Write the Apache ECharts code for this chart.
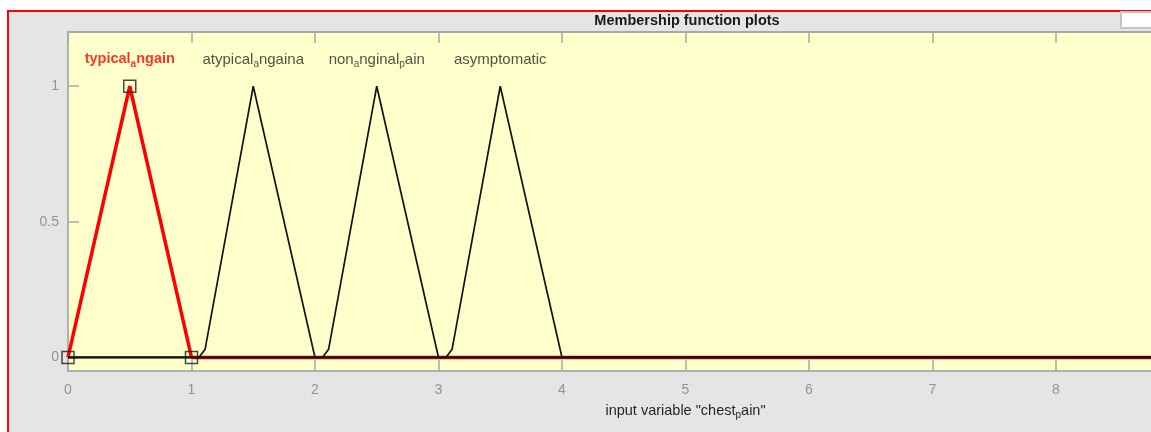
<!DOCTYPE html>
<html>
<head>
<meta charset="utf-8">
<script src="https://cdn.jsdelivr.net/npm/echarts@6/dist/echarts.min.js"></script>
<style>
  html, body { margin: 0; padding: 0; background: #ffffff; }
  #wrap { position: relative; width: 1151px; height: 432px; overflow: hidden; }
  #panel { position: absolute; left: 7px; top: 10px; width: 1200px; height: 500px;
           background: #e5e5e5; border-left: 2px solid #ff0000; border-top: 2px solid #ff0000; }
  #chart { position: absolute; left: 0; top: 0; width: 1151px; height: 432px; }
</style>
</head>
<body>
<div id="wrap">
  <div id="panel"></div>
  <div id="chart"></div>
</div>
<script>
// Input variable "chest_pain": universe of discourse and its membership functions
const xRange = [0, 10];
const yRange = [-0.05, 1.2];
const yTicks = [0, 0.5, 1];

const mfNames = ['typical_angain', 'atypical_angaina', 'non_anginal_pain', 'asymptomatic'];
const mfPeaks = [0.5, 1.5, 2.5, 3.5];

// sampled curves, zero over the rest of the range
const typicalAngain = [[0, 0], [0.5, 1], [1, 0], [10, 0]];
const atypicalAngaina = [[0, 0], [1.06, 0], [1.11, 0.03], [1.5, 1], [2, 0], [10, 0]];
const nonAnginalPain = [[0, 0], [2.06, 0], [2.11, 0.03], [2.5, 1], [3, 0], [10, 0]];
const asymptomatic = [[0, 0], [3.06, 0], [3.11, 0.03], [3.5, 1], [4, 0], [10, 0]];

// parameter handles of the selected function
const selectedParams = [[0, 0], [0.5, 1], [1, 0]];
const selectedIndex = 0;

const LABEL_Y = 1.095;
const FONT = '"Liberation Sans", Arial, Helvetica, sans-serif';

// TeX-style "_x" -> subscript x
function texRich(s, main, sub) {
  let out = '';
  let buf = '';
  for (let i = 0; i < s.length; i++) {
    if (s[i] === '_' && i + 1 < s.length) {
      if (buf) { out += '{' + main + '|' + buf + '}'; buf = ''; }
      out += '{' + sub + '|' + s[i + 1] + '}';
      i++;
    } else {
      buf += s[i];
    }
  }
  if (buf) out += '{' + main + '|' + buf + '}';
  return out;
}

const chart = echarts.init(document.getElementById('chart'), null, { renderer: 'canvas' });

const labelRich = {
  n: { fontFamily: FONT, fontSize: 15, color: '#262626', verticalAlign: 'top', lineHeight: 17 },
  s: { fontFamily: FONT, fontSize: 10, color: '#262626', verticalAlign: 'top', lineHeight: 17, padding: [7, 0, 0, 0] },
  bn: { fontFamily: FONT, fontSize: 14.5, fontWeight: 'bold', color: '#ff0000', verticalAlign: 'top', lineHeight: 17 },
  bs: { fontFamily: FONT, fontSize: 10, fontWeight: 'bold', color: '#ff0000', verticalAlign: 'top', lineHeight: 17, padding: [7, 0, 0, 0] }
};

const curveSets = [typicalAngain, atypicalAngaina, nonAnginalPain, asymptomatic];

const series = [];
curveSets.forEach(function (pts, i) {
  const sel = i === selectedIndex;
  series.push({
    type: 'line',
    name: mfNames[i],
    data: pts,
    showSymbol: false,
    symbol: 'none',
    silent: true,
    z: sel ? 2 : 3,
    lineStyle: sel ? { color: '#ff0000', width: 3.5 } : { color: '#141414', width: 1.7 }
  });
});

series.push({
  type: 'scatter',
  name: 'handles',
  data: selectedParams,
  symbol: 'rect',
  symbolSize: 12,
  silent: true,
  z: 5,
  itemStyle: { color: 'rgba(0,0,0,0)', borderColor: '#1a1a1a', borderWidth: 1.5 }
});

series.push({
  type: 'scatter',
  name: 'labels',
  data: mfPeaks.map(function (p, i) { return { value: [p, LABEL_Y], name: mfNames[i] }; }),
  symbolSize: 0,
  silent: true,
  z: 6,
  label: {
    show: true,
    position: 'inside',
    formatter: function (p) {
      const sel = p.dataIndex === selectedIndex;
      return texRich(p.name, sel ? 'bn' : 'n', sel ? 'bs' : 's');
    },
    rich: labelRich
  }
});

const axisGrey = '#a8a8a8';
const labelGrey = '#939393';

chart.setOption({
  animation: false,
  backgroundColor: 'transparent',
  grid: {
    left: 68, top: 32, width: 1235, height: 339,
    outerBoundsMode: 'none',
    containLabel: false,
    show: true, backgroundColor: '#ffffcc', borderColor: axisGrey, borderWidth: 1
  },
  graphic: [
    {
      type: 'text',
      x: 687, y: 21,
      style: {
        text: 'Membership function plots', font: 'bold 14.5px ' + FONT, fill: '#1a1a1a',
        textAlign: 'center', textVerticalAlign: 'middle'
      }
    },
    {
      type: 'rect',
      shape: { x: 1121, y: 12, width: 40, height: 16 },
      style: { fill: '#ffffff', stroke: '#c4c4c4', lineWidth: 2 }
    }
  ],
  xAxis: [
    {
      type: 'value', position: 'bottom',
      min: xRange[0], max: xRange[1], interval: 1,
      axisLine: { onZero: false, lineStyle: { color: axisGrey, width: 1.5 } },
      axisTick: { inside: true, length: 11, lineStyle: { color: axisGrey, width: 1.5 } },
      axisLabel: { color: labelGrey, fontFamily: FONT, fontSize: 14, margin: 12 },
      splitLine: { show: false },
      name: texRich('input variable "chest_pain"', 'an', 'as'),
      nameLocation: 'middle',
      nameGap: 32,
      nameTextStyle: {
        rich: {
          an: { fontFamily: FONT, fontSize: 14.5, color: '#262626', verticalAlign: 'top', lineHeight: 17 },
          as: { fontFamily: FONT, fontSize: 10, color: '#262626', verticalAlign: 'top', lineHeight: 17, padding: [7, 0, 0, 0] }
        }
      }
    },
    {
      type: 'value', position: 'top',
      min: xRange[0], max: xRange[1], interval: 1,
      axisLine: { onZero: false, lineStyle: { color: axisGrey, width: 2 } },
      axisTick: { inside: true, length: 11, lineStyle: { color: axisGrey, width: 1.5 } },
      axisLabel: { show: false },
      splitLine: { show: false }
    }
  ],
  yAxis: {
    type: 'value',
    min: yRange[0], max: yRange[1],
    axisLine: { onZero: false, show: true, lineStyle: { color: axisGrey, width: 1.5 } },
    axisTick: { show: true, inside: true, length: 11, customValues: yTicks, lineStyle: { color: axisGrey, width: 1.5 } },
    axisLabel: { color: labelGrey, fontFamily: FONT, fontSize: 14, margin: 9, customValues: yTicks },
    splitLine: { show: false }
  },
  series: series
});
</script>
</body>
</html>
